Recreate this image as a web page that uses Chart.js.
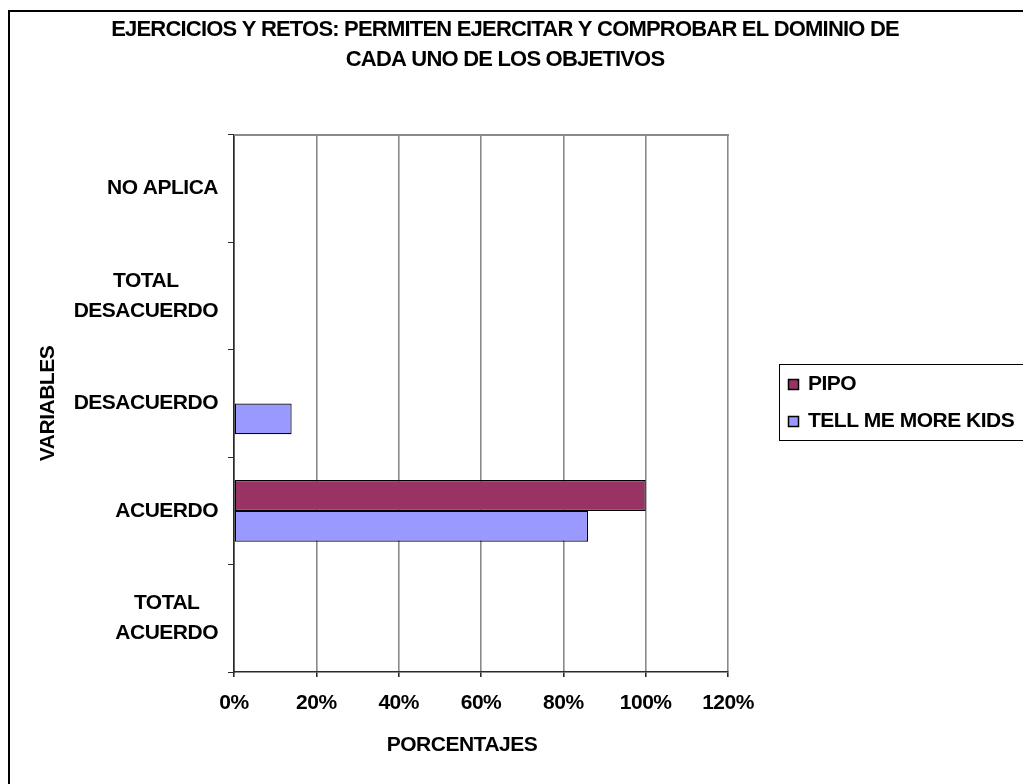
<!DOCTYPE html>
<html>
<head>
<meta charset="utf-8">
<script src="https://cdn.jsdelivr.net/npm/chart.js@4/dist/chart.umd.min.js"></script>
<style>
  html, body { margin: 0; padding: 0; background: #fff; overflow: hidden; }
  canvas { display: block; }
</style>
</head>
<body>
<canvas id="c" width="1023" height="784"></canvas>
<script>
// Survey answers per category (percent), top row first
const categories = ['NO APLICA', 'TOTAL\nDESACUERDO', 'DESACUERDO', 'ACUERDO', 'TOTAL\nACUERDO'];
const seriesNames = ['PIPO', 'TELL ME MORE KIDS'];
const pipoValues = [0, 0, 0, 100, 0];
const tellMeMoreKidsValues = [0, 0, 14, 86, 0];
const xTickValues = [0, 20, 40, 60, 80, 100, 120];
const titleLines = ['EJERCICIOS Y RETOS: PERMITEN EJERCITAR Y COMPROBAR EL DOMINIO DE', 'CADA UNO DE LOS OBJETIVOS'];
const xAxisTitle = 'PORCENTAJES';
const yAxisTitle = 'VARIABLES';

const FONT = '"Liberation Sans", Arial, sans-serif';
const AXIS_DARK = '#2a2a2a';
const GRID_GRAY = '#8a8a8a';
const TIGHT = '-0.5px';

function boldFont(size) { return 'bold ' + size + 'px ' + FONT; }

const decor = {
  id: 'decor',
  beforeDraw(chart) {
    const ctx = chart.ctx;
    // tight tracking for every text drawn on this canvas
    ctx.letterSpacing = TIGHT;
    ctx.save();
    ctx.fillStyle = '#fff';
    ctx.fillRect(0, 0, chart.width, chart.height);
    // outer frame (runs off the right and bottom edges)
    ctx.fillStyle = '#000';
    ctx.fillRect(8, 10, 2, chart.height);
    ctx.fillRect(8, 10, chart.width, 2);
    ctx.restore();
  },
  afterDraw(chart) {
    const ctx = chart.ctx;
    const area = chart.chartArea;
    const yScale = chart.scales.y;
    ctx.save();

    // top edge of the plot area
    ctx.strokeStyle = GRID_GRAY;
    ctx.lineWidth = 2;
    ctx.beginPath();
    ctx.moveTo(area.left, area.top);
    ctx.lineTo(area.right + 1, area.top);
    ctx.stroke();

    ctx.fillStyle = '#000';
    ctx.textBaseline = 'middle';
    ctx.letterSpacing = TIGHT;

    // category labels: right-aligned blocks, lines centred inside each block
    ctx.font = boldFont(21);
    ctx.textAlign = 'center';
    const labelRight = 218;
    const lineGap = 30;
    categories.forEach((label, i) => {
      const lines = label.split('\n');
      const blockW = Math.max(...lines.map(l => ctx.measureText(l).width));
      const cx = labelRight - blockW / 2;
      const cy = yScale.getPixelForValue(i);
      lines.forEach((line, k) => {
        ctx.fillText(line, cx, cy + (k - (lines.length - 1) / 2) * lineGap);
      });
    });

    // axis titles
    ctx.fillText(xAxisTitle, 462, 745);
    ctx.save();
    ctx.translate(48, (area.top + area.bottom) / 2);
    ctx.rotate(-Math.PI / 2);
    ctx.fillText(yAxisTitle, 0, 0);
    ctx.restore();

    // chart title
    ctx.font = boldFont(22);
    ctx.letterSpacing = '-0.8px';
    ctx.fillText(titleLines[0], 505, 30);
    ctx.fillText(titleLines[1], 505, 60);

    // legend
    ctx.letterSpacing = TIGHT;
    ctx.strokeStyle = '#000';
    ctx.lineWidth = 1;
    ctx.strokeRect(779.5, 364.5, 400, 76);
    ctx.font = boldFont(21);
    ctx.textAlign = 'left';
    chart.data.datasets.forEach((ds, i) => {
      const cy = 384 + i * 37;
      ctx.fillStyle = ds.backgroundColor;
      ctx.fillRect(788, cy - 5, 11, 11);
      ctx.strokeStyle = '#000';
      ctx.lineWidth = 1.5;
      ctx.strokeRect(788.5, cy - 4.5, 10, 10);
      ctx.fillStyle = '#000';
      ctx.fillText(ds.label, 808, cy);
    });

    ctx.restore();
  }
};

new Chart(document.getElementById('c'), {
  type: 'bar',
  data: {
    labels: categories,
    datasets: [
      {
        label: seriesNames[0],
        data: pipoValues,
        backgroundColor: '#993366',
        borderColor: '#000',
        borderWidth: 1.2,
        borderSkipped: false
      },
      {
        label: seriesNames[1],
        data: tellMeMoreKidsValues,
        backgroundColor: '#9999FF',
        borderColor: '#000',
        borderWidth: 1.2,
        borderSkipped: false
      }
    ]
  },
  options: {
    indexAxis: 'y',
    responsive: false,
    animation: false,
    events: [],
    layout: { padding: { left: 0, top: 135, right: 295, bottom: 0 } },
    datasets: { bar: { categoryPercentage: 0.574, barPercentage: 1 } },
    plugins: {
      legend: { display: false },
      title: { display: false },
      tooltip: { enabled: false }
    },
    scales: {
      x: {
        min: 0,
        max: 120,
        afterBuildTicks(scale) { scale.ticks = xTickValues.map(v => ({ value: v })); },
        afterFit(scale) { scale.height = 112; },
        ticks: {
          callback: v => v + '%',
          font: { family: FONT, size: 21, weight: 'bold' },
          color: '#000',
          padding: 14,
          maxRotation: 0,
          autoSkip: false
        },
        grid: { color: GRID_GRAY, lineWidth: 1.6, tickLength: 5, tickColor: AXIS_DARK },
        border: { color: AXIS_DARK, width: 1.6 }
      },
      y: {
        afterFit(scale) { scale.width = 234; },
        ticks: { display: false },
        grid: { drawOnChartArea: false, tickLength: 6, tickColor: AXIS_DARK, offset: true },
        border: { color: AXIS_DARK, width: 1.6 }
      }
    }
  },
  plugins: [decor]
});
</script>
</body>
</html>
